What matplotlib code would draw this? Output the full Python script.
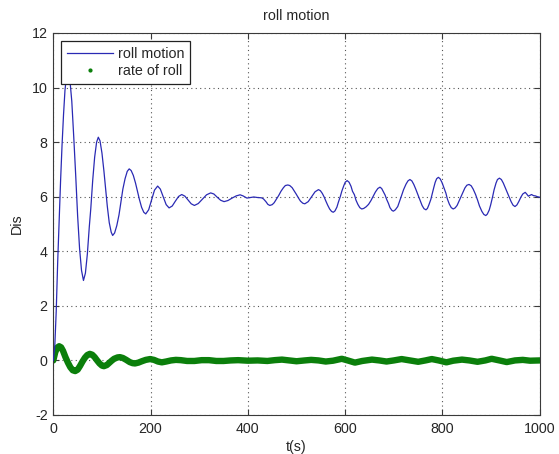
import matplotlib
matplotlib.use("Agg")
import matplotlib.pyplot as plt
from matplotlib.lines import Line2D

plt.rcParams["font.family"] = ["Liberation Sans", "DejaVu Sans"]

# roll motion response (time in s, displacement)
roll_t = [0, 3, 6, 9, 12, 15, 18, 21, 24, 27, 30, 34, 38, 42, 46, 50, 54, 58, 62,
          66, 70, 74, 77, 81, 85, 89, 92.5, 96, 100, 104, 107, 111, 115, 119, 122,
          126, 130.5, 135, 139, 143, 147.5, 152, 156, 160, 164.5, 169, 173, 177, 181.5,
          186, 190, 196, 202, 208, 214.5, 220, 226, 232, 238, 244.5, 251, 257.5, 264,
          270.5, 277, 283.5, 290, 298, 306.5, 315, 323.5, 330, 337, 344, 351, 359,
          367.5, 376, 384, 390, 398, 405, 412, 420, 428, 432, 437, 441, 445, 450, 454,
          459, 463.5, 468, 473, 477, 482, 486, 491, 495, 499.5, 504, 508, 513, 517,
          524, 531, 538, 545, 549, 553, 557, 560, 564, 568, 572, 575.5, 579, 583, 586,
          590, 593, 597, 600, 604, 608, 612, 615, 619, 622, 626, 630, 634, 638, 643,
          648, 653, 657, 662, 667, 671.5, 675, 678, 682, 685, 689, 692, 696, 699, 703,
          708, 712, 716, 720, 725, 729, 733, 737, 741, 745, 749.5, 754, 758, 762, 766,
          769, 772, 776, 779, 782, 785, 788, 791.5, 795, 799, 803, 807, 810, 814, 818,
          822, 826, 830, 834, 838, 842, 846, 850, 854.5, 859, 863, 868, 872, 876, 881,
          885, 889, 892, 896, 899, 903, 906, 910, 913, 917, 921, 925, 929, 933, 937,
          941, 945, 949, 953, 957, 961, 965, 970, 973, 976.5, 980, 983, 987, 991, 995,
          1000]
roll_v = [0.0, 0.5, 1.8, 3.6, 5.1, 6.6, 7.9, 9.0, 9.9, 10.4, 10.6, 10.3, 9.5, 8.2, 6.8,
          5.3, 4.1, 3.3, 2.93, 3.2, 3.9, 4.9, 5.55, 6.6, 7.45, 8.0, 8.18, 8.05, 7.6,
          6.95, 6.4, 5.65, 5.05, 4.7, 4.58, 4.67, 4.94, 5.33, 5.8, 6.28, 6.66, 6.93,
          7.02, 6.96, 6.78, 6.5, 6.2, 5.9, 5.61, 5.43, 5.37, 5.52, 5.88, 6.24, 6.39,
          6.28, 6.0, 5.71, 5.59, 5.66, 5.84, 6.01, 6.08, 6.02, 5.88, 5.74, 5.68, 5.75,
          5.91, 6.07, 6.14, 6.1, 5.98, 5.87, 5.82, 5.86, 5.95, 6.03, 6.07, 6.03, 5.95,
          5.97, 5.99, 5.97, 5.96, 5.92, 5.82, 5.72, 5.68, 5.71, 5.78, 5.92, 6.05, 6.2,
          6.33, 6.41, 6.43, 6.41, 6.33, 6.22, 6.09, 5.95, 5.84, 5.76, 5.74, 5.82, 6.0,
          6.18, 6.26, 6.22, 6.12, 5.98, 5.85, 5.69, 5.55, 5.46, 5.43, 5.48, 5.62, 5.8,
          6.01, 6.2, 6.4, 6.53, 6.59, 6.53, 6.38, 6.2, 6.07, 5.88, 5.72, 5.6, 5.55,
          5.57, 5.63, 5.72, 5.86, 6.0, 6.17, 6.3, 6.35, 6.3, 6.2, 6.06, 5.91, 5.75,
          5.6, 5.5, 5.47, 5.52, 5.64, 5.84, 6.05, 6.26, 6.46, 6.58, 6.63, 6.58, 6.45,
          6.28, 6.07, 5.86, 5.68, 5.56, 5.52, 5.57, 5.7, 5.9, 6.12, 6.33, 6.53, 6.66,
          6.71, 6.66, 6.52, 6.33, 6.13, 5.92, 5.73, 5.6, 5.55, 5.59, 5.68, 5.84, 6.0,
          6.17, 6.32, 6.42, 6.45, 6.4, 6.28, 6.08, 5.88, 5.66, 5.46, 5.35, 5.31, 5.36,
          5.51, 5.7, 6.0, 6.25, 6.5, 6.63, 6.68, 6.63, 6.5, 6.33, 6.16, 5.98, 5.82,
          5.69, 5.64, 5.7, 5.83, 5.98, 6.1, 6.16, 6.1, 6.02, 6.05, 6.08, 6.04, 6.03,
          6.0, 5.98]

# rate of roll
rate_t = [0, 4, 8, 12, 16, 20, 25, 30, 35, 40, 45, 50, 55, 60, 65, 70, 75, 80, 85, 90,
          95, 100, 104, 110, 115, 120, 125, 132, 137, 143, 150, 157, 163, 168, 175,
          182, 190, 199, 207, 215, 223, 232, 242, 252, 262, 275, 290, 305, 320, 335,
          350, 365, 380, 400, 420, 440, 455, 470, 485, 500, 517, 530, 545, 560, 575,
          593, 605, 620, 635, 655, 670, 685, 700, 716, 733, 750, 765, 778, 792, 808,
          822, 840, 855, 872, 888, 901, 917, 932, 949, 965, 980, 1000]
rate_v = [0.0, 0.3, 0.47, 0.52, 0.48, 0.35, 0.12, -0.08, -0.25, -0.36, -0.39, -0.34,
          -0.2, -0.04, 0.1, 0.2, 0.24, 0.21, 0.12, 0.0, -0.11, -0.19, -0.21, -0.17,
          -0.09, -0.01, 0.06, 0.11, 0.12, 0.09, 0.02, -0.06, -0.1, -0.11, -0.08, -0.03,
          0.02, 0.05, 0.02, -0.04, -0.07, -0.04, 0.0, 0.02, 0.01, -0.02, -0.02, 0.01,
          0.01, -0.02, -0.02, 0.0, 0.01, -0.01, 0.0, -0.02, 0.01, 0.03, 0.0, -0.03, 0.0,
          0.02, 0.0, -0.04, -0.01, 0.06, 0.0, -0.08, -0.02, 0.03, 0.0, -0.04, 0.0, 0.05,
          0.0, -0.05, 0.0, 0.05, 0.0, -0.07, -0.01, 0.03, 0.0, -0.05, 0.0, 0.06, 0.0,
          -0.06, 0.0, 0.02, -0.01, 0.0]

x_ticks = [0, 200, 400, 600, 800, 1000]
y_ticks = [-2, 0, 2, 4, 6, 8, 10, 12]

W, H = 559, 454
fig = plt.figure(figsize=(W / 100, H / 100), dpi=100, facecolor="white")
ax = fig.add_axes([53.3 / W, 1 - 415 / H, (539.8 - 53.3) / W, (415 - 33) / H])

blue = "#2a2ab4"
green = "#0b7f0b"
text_c = "#262626"
edge_c = "#3a3a3a"

ax.plot(rate_t, rate_v, color=green, lw=4.6, solid_capstyle="round",
        solid_joinstyle="round", zorder=2)
ax.plot(roll_t, roll_v, color=blue, lw=0.9, zorder=3)

ax.set_xlim(0, 1000)
ax.set_ylim(-2, 12)
ax.set_xticks(x_ticks)
ax.set_yticks(y_ticks)
ax.set_xticklabels([str(v) for v in x_ticks])
ax.set_yticklabels([str(v) for v in y_ticks])
ax.tick_params(direction="in", length=4, width=0.8, colors=edge_c,
               labelcolor=text_c, labelsize=10.3, top=True, right=True, pad=4)
ax.tick_params(axis="x", pad=5)
ax.grid(True, color="#555555", linestyle=(0, (1, 3)), linewidth=0.8)
for s in ax.spines.values():
    s.set_color(edge_c)
    s.set_linewidth(0.8)

ax.set_title("roll motion", fontsize=10.3, color=text_c, pad=9)
ax.set_xlabel("t(s)", fontsize=10.3, color=text_c, labelpad=3)
ax.set_ylabel("Dis", fontsize=10.3, color=text_c, labelpad=6)

handles = [Line2D([], [], color=blue, lw=0.9),
           Line2D([], [], color=green, lw=0, marker=".", markersize=4)]
leg = fig.legend(handles, ["roll motion", "rate of roll"], loc="upper left",
                 bbox_to_anchor=(61 / W, 1 - 40.7 / H), borderaxespad=0,
                 fontsize=10.3, frameon=True, fancybox=False, shadow=False,
                 framealpha=1, handlelength=3.2, handletextpad=0.3,
                 borderpad=0.45, labelspacing=0.18)
leg.get_frame().set_edgecolor("#222222")
leg.get_frame().set_linewidth(0.9)
leg.set_zorder(10)
for t in leg.get_texts():
    t.set_color(text_c)

fig.savefig("out.png", dpi=100, facecolor="white")
